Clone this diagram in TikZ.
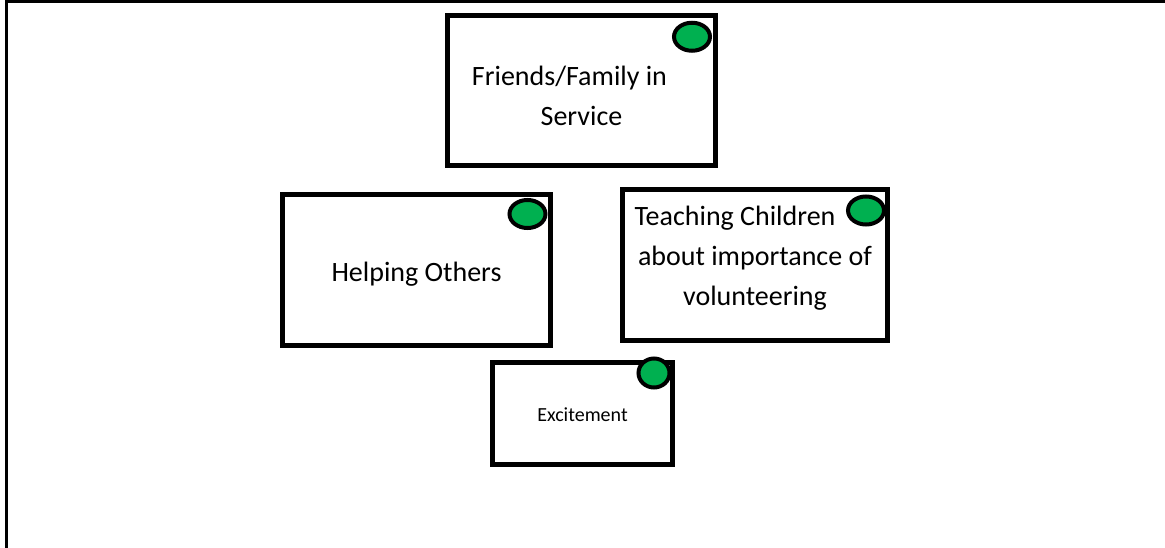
\documentclass[tikz,border=0pt]{standalone}
\usepackage{fontspec}
\setmainfont{Carlito}
\usetikzlibrary{positioning,shapes.geometric}
\definecolor{dotgreen}{RGB}{0,176,80}
\begin{document}
\begin{tikzpicture}[x=1pt,y=-1pt,
  cardbox/.style={draw=black,fill=white,line width=5pt,inner sep=0pt,outer sep=0pt},
  cardtext/.style={inner sep=0pt,outer sep=0pt,align=center,font=\fontsize{28}{40}\selectfont},
  dot/.style={ellipse,draw=black,fill=dotgreen,line width=4pt,minimum width=36pt,minimum height=28pt,inner sep=0pt}]
\path[use as bounding box] (0,0) rectangle (1165,548);
% outer frame, only top and left edges
\draw[line width=3pt] (6.5,548) -- (6.5,1.5) -- (1165,1.5);
% cards
\node[cardbox,minimum width=268pt,minimum height=150pt] (fambox) at (581.5,90.25) {};
\node[cardbox,minimum width=268pt,minimum height=150.5pt] (helpbox) at (416.5,269.75) {};
\node[cardbox,minimum width=265pt,minimum height=150.5pt] (teachbox) at (755,264.75) {};
\node[cardbox,minimum width=180pt,minimum height=102pt] (excitebox) at (582.5,413.5) {};
% texts
\node[cardtext] (famtext) at ([yshift=-6pt]fambox.center) {Friends/Family in\hspace*{24pt}\\Service};
\node[cardtext] (helptext) at ([yshift=-4pt]helpbox.center) {Helping Others};
\node[cardtext] (teachtext) at ([yshift=7pt]teachbox.center) {Teaching Children\hspace*{40pt}\\about importance of\\volunteering};
\node[cardtext,font=\fontsize{20}{24}\selectfont] (excitetext) at ([yshift=-1pt]excitebox.center) {Excitement};
% green dots
\node[dot] (famdot) at ([xshift=-23.5pt,yshift=-21.5pt]fambox.north east) {};
\node[dot] (helpdot) at ([xshift=-23pt,yshift=-19.5pt]helpbox.north east) {};
\node[dot] (teachdot) at ([xshift=-21.5pt,yshift=-21pt]teachbox.north east) {};
\node[dot,minimum width=31pt,minimum height=29pt] (excitedot) at ([xshift=-18.5pt,yshift=-10.5pt]excitebox.north east) {};
\end{tikzpicture}
\end{document}
